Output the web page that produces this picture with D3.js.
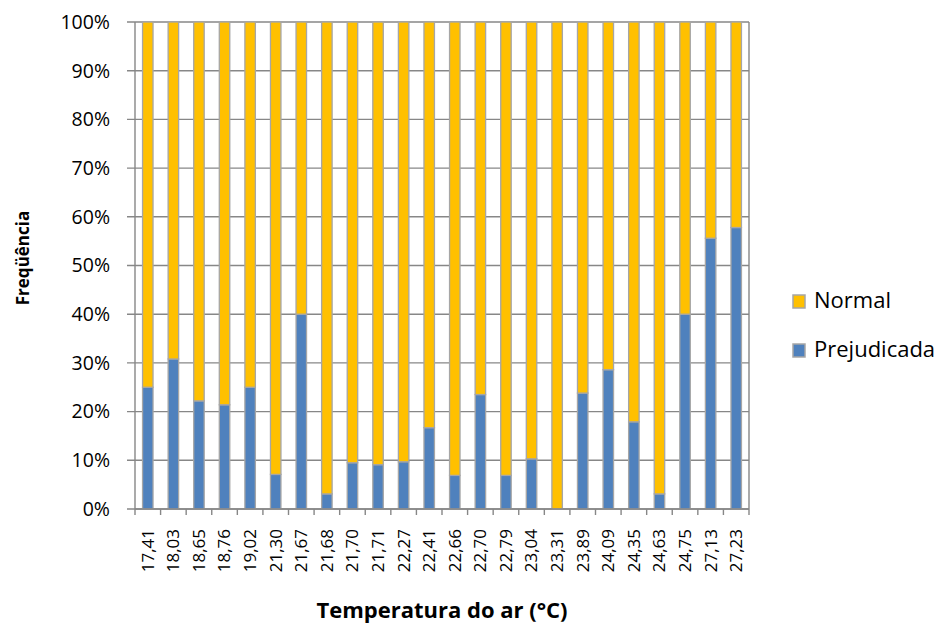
<!DOCTYPE html>
<html>
<head>
<meta charset="utf-8">
<script src="https://cdn.jsdelivr.net/npm/d3@7"></script>
<style>
  html, body { margin: 0; padding: 0; background: #fff; }
  svg { display: block; font-family: "Open Sans", Lato, sans-serif; }
</style>
</head>
<body>
<svg id="chart" width="944" height="628"></svg>
<script>
const categories = ["17,41","18,03","18,65","18,76","19,02","21,30","21,67","21,68","21,70","21,71","22,27","22,41","22,66","22,70","22,79","23,04","23,31","23,89","24,09","24,35","24,63","24,75","27,13","27,23"];
const prejudicada = [25.0, 30.8, 22.2, 21.4, 25.0, 7.1, 40.0, 3.1, 9.5, 9.1, 9.7, 16.7, 6.9, 23.5, 6.9, 10.3, 0, 23.8, 28.6, 17.9, 3.1, 40.0, 55.6, 57.8];
const normal = prejudicada.map(v => 100 - v);
const yTicks = [0, 10, 20, 30, 40, 50, 60, 70, 80, 90, 100];
const seriesNames = ["Prejudicada", "Normal"];
const colors = {"Prejudicada": "#4F81BD", "Normal": "#FFC000"};

(function () {
const svg = d3.select("#chart");
const pLeft = 135, pRight = 749, pTop = 22, pBottom = 509;

const x = d3.scaleBand().domain(categories).range([pLeft, pRight]).paddingInner(0.59).paddingOuter(0.295);
const y = d3.scaleLinear().domain([0, 100]).range([pBottom, pTop]);

const gridColor = "#878787";

svg.append("g").selectAll("line").data(yTicks).join("line")
  .attr("x1", pLeft - 8).attr("x2", pRight)
  .attr("y1", d => y(d)).attr("y2", d => y(d))
  .attr("stroke", gridColor).attr("stroke-width", 1.4);

svg.append("line").attr("x1", pRight).attr("x2", pRight).attr("y1", pTop).attr("y2", pBottom)
  .attr("stroke", gridColor).attr("stroke-width", 1.4);

svg.append("g").selectAll("text").data(yTicks).join("text")
  .attr("x", 110).attr("y", d => y(d)).attr("dy", "0.35em")
  .attr("text-anchor", "end").attr("font-size", 19.5).attr("fill", "#000")
  .text(d => d + "%");

const rows = categories.map((c, i) => ({cat: c, Prejudicada: prejudicada[i], Normal: normal[i]}));
const stack = d3.stack().keys(seriesNames)(rows);

const barG = svg.append("g");
stack.forEach(layer => {
  barG.append("g").selectAll("rect").data(layer).join("rect")
    .attr("x", d => x(d.data.cat))
    .attr("width", x.bandwidth())
    .attr("y", d => y(d[1]))
    .attr("height", d => Math.max(0, y(d[0]) - y(d[1])))
    .attr("fill", colors[layer.key])
    .attr("stroke", "#A6A6A6").attr("stroke-width", 1.3);
});

svg.append("line").attr("x1", pLeft).attr("x2", pLeft).attr("y1", pTop).attr("y2", pBottom)
  .attr("stroke", gridColor).attr("stroke-width", 1.4);

const xAxis = svg.append("g").attr("transform", `translate(0,${pBottom})`);
xAxis.append("line").attr("x1", pLeft).attr("x2", pRight).attr("stroke", gridColor).attr("stroke-width", 1.4);
const boundaries = d3.range(categories.length + 1).map(i => pLeft + i * (pRight - pLeft) / categories.length);
xAxis.selectAll("line.tick").data(boundaries).join("line").attr("class", "tick")
  .attr("x1", d => d).attr("x2", d => d).attr("y1", 0).attr("y2", 6)
  .attr("stroke", gridColor).attr("stroke-width", 1.4);

svg.append("g").selectAll("text").data(categories).join("text")
  .attr("transform", d => `translate(${x(d) + x.bandwidth() / 2},529) rotate(-90)`)
  .attr("text-anchor", "end").attr("dy", "0.35em")
  .attr("font-size", 17).attr("fill", "#000")
  .text(d => d);

svg.append("text").attr("x", (pLeft + pRight) / 2).attr("y", 618)
  .attr("text-anchor", "middle").attr("font-size", 22).attr("font-weight", "bold")
  .text("Temperatura do ar (°C)");

svg.append("text").attr("transform", `translate(29,258) rotate(-90)`)
  .attr("text-anchor", "middle").attr("font-size", 17).attr("font-weight", "bold")
  .text("Freqüência");

const legendItems = ["Normal", "Prejudicada"];
const lg = svg.append("g").selectAll("g").data(legendItems).join("g")
  .attr("transform", (d, i) => `translate(793,${295 + i * 49})`);
lg.append("rect").attr("width", 12).attr("height", 13)
  .attr("fill", d => colors[d]).attr("stroke", "#A6A6A6").attr("stroke-width", 1.5);
lg.append("text").attr("x", 21).attr("y", 13).attr("font-size", 22).attr("fill", "#000").text(d => d);
})();
</script>
</body>
</html>
